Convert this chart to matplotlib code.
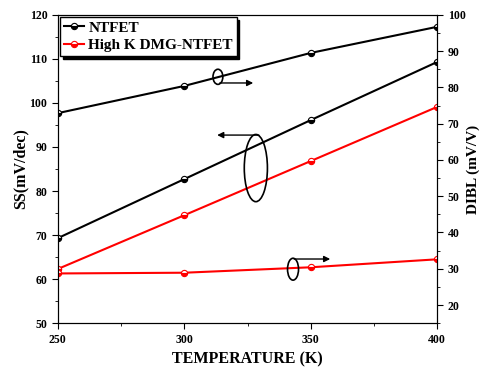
import matplotlib
matplotlib.use("Agg")
import matplotlib.pyplot as plt
from matplotlib.patches import Ellipse
from matplotlib.ticker import MultipleLocator

plt.rcParams['font.family'] = ['Liberation Serif', 'DejaVu Serif']
plt.rcParams['font.weight'] = 'bold'

temperature = [250, 300, 350, 400]
ss_ntfet = [69.3, 82.7, 96.1, 109.3]
ss_highk = [62.3, 74.5, 86.8, 99.1]
dibl_ntfet = [72.9, 80.4, 89.5, 96.7]
dibl_highk = [28.7, 28.9, 30.4, 32.6]

fig = plt.figure(figsize=(4.82, 3.71), dpi=100)
ax = fig.add_axes([0.120, 0.129, 0.787, 0.831])
ax2 = ax.twinx()

mk = dict(marker='o', markersize=4.5, fillstyle='bottom', markerfacecoloralt='white',
          markeredgewidth=0.8, linewidth=1.5)

ax.plot(temperature, ss_ntfet, color='black', label='NTFET', **mk)
ax.plot(temperature, ss_highk, color='red', label='High K DMG-NTFET', **mk)
ax2.plot(temperature, dibl_ntfet, color='black', **mk)
ax2.plot(temperature, dibl_highk, color='red', **mk)

ax.set_xlim(250, 400)
ax.set_ylim(50, 120)
ax2.set_ylim(15, 100)

ax.xaxis.set_major_locator(MultipleLocator(50))
ax.xaxis.set_minor_locator(MultipleLocator(25))
ax.yaxis.set_major_locator(MultipleLocator(10))
ax.yaxis.set_minor_locator(MultipleLocator(5))
ax2.yaxis.set_major_locator(MultipleLocator(10))
ax2.yaxis.set_minor_locator(MultipleLocator(5))

for a in (ax, ax2):
    a.tick_params(which='both', direction='out', labelsize=8.5)
    a.tick_params(which='major', length=4)
    a.tick_params(which='minor', length=2)
    for lab in a.get_xticklabels() + a.get_yticklabels():
        lab.set_fontweight('bold')
ax.tick_params(axis='x', pad=4)

ax.set_xlabel('TEMPERATURE (K)', fontsize=11.5, fontweight='bold', labelpad=4)
ax.set_ylabel('SS(mV/dec)', fontsize=11.5, fontweight='bold', labelpad=1)
ax2.set_ylabel('DIBL (mV/V)', fontsize=11, fontweight='bold', labelpad=1)

leg = ax.legend(loc='upper left', bbox_to_anchor=(0.0, 1.0), fontsize=11, frameon=True,
                fancybox=False, shadow={'color': 'black', 'alpha': 1}, borderpad=0.25,
                handlelength=1.3, handletextpad=0.3, labelspacing=0.25, borderaxespad=0.15)
leg.get_frame().set_edgecolor('black')
leg.get_frame().set_linewidth(1.0)
for t in leg.get_texts():
    t.set_fontweight('bold')

# ellipses and arrows
for cx, cy, w, h in [(0.422, 0.799, 0.026, 0.049), (0.522, 0.503, 0.061, 0.218),
                     (0.620, 0.175, 0.029, 0.071)]:
    ax2.add_patch(Ellipse((cx, cy), w, h, transform=ax2.transAxes, fill=False,
                          edgecolor='black', linewidth=1.2, zorder=5))
for x0, x1, y in [(0.427, 0.515, 0.779), (0.53, 0.42, 0.610), (0.623, 0.718, 0.208)]:
    ax2.annotate('', xy=(x1, y), xytext=(x0, y), xycoords='axes fraction',
                 arrowprops=dict(arrowstyle='-|>', color='black', lw=1.0,
                                 mutation_scale=9, shrinkA=0, shrinkB=0))

fig.savefig('out.png', dpi=100)
